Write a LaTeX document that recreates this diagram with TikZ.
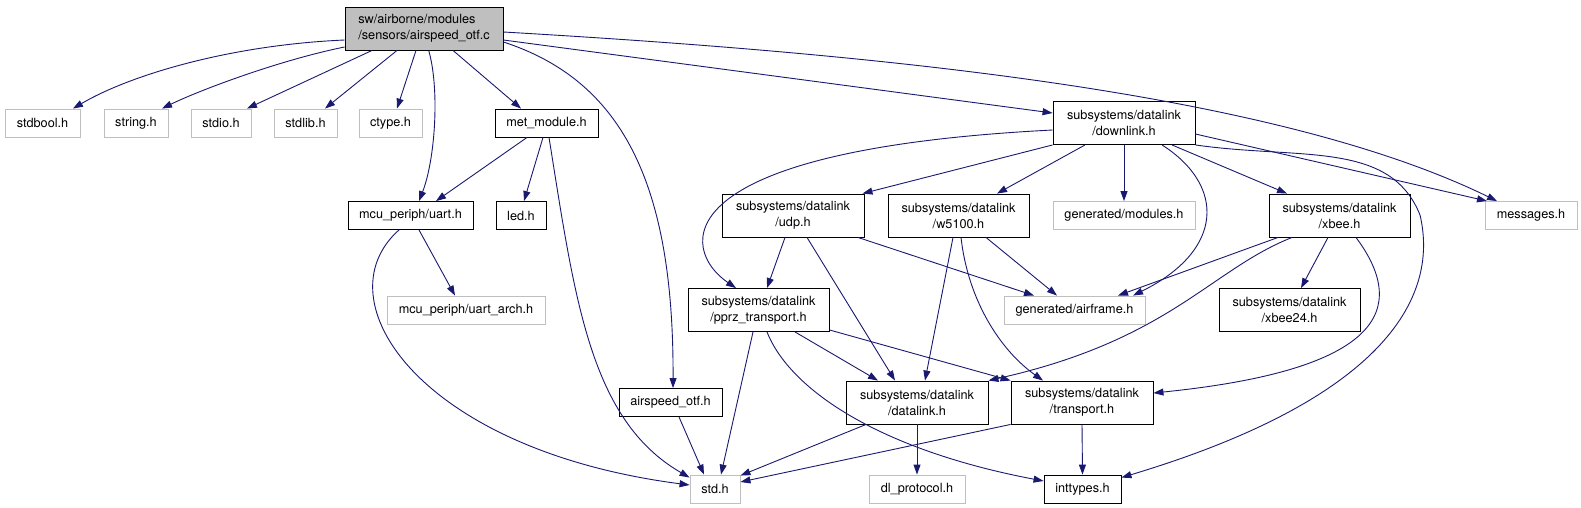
\documentclass[tikz,border=0pt]{standalone}
\usepackage{fontspec}
\setmainfont{TeX Gyre Heros}
\usetikzlibrary{arrows.meta}

\definecolor{edgeblue}{HTML}{191970}
\definecolor{boxgray}{HTML}{BFBFBF}

\begin{document}
\begin{tikzpicture}[
    x=1pt, y=-1pt,
    >={Triangle[length=10pt,width=7pt]},
    every node/.style={font=\fontsize{12.7}{16}\selectfont, inner sep=0pt,
      minimum height=28pt},
    filebox/.style={draw=black, line width=0.9pt, fill=white},
    extbox/.style={draw=boxgray, line width=0.9pt, fill=white},
    twoline/.style={align=center, minimum height=43pt},
    dep arrow/.style={->, draw=edgeblue, line width=0.9pt},
  ]

  %% ---- frame: keep the 1581 x 507 page ----
  \useasboundingbox (0,0) rectangle (1581,507);

  %% ---- the file itself ----
  \node[filebox, fill=boxgray, align=left, minimum width=158pt, minimum height=43pt]
    (root) at (424,28.5) {sw/airborne/modules\\/sensors/airspeed\_otf.c};

  %% ---- row 1 ----
  \node[extbox, minimum width=75pt]  (stdbool) at (42.5,123)  {stdbool.h};
  \node[extbox, minimum width=64pt]  (string)  at (136,123)   {string.h};
  \node[extbox, minimum width=60pt]  (stdio)   at (221,123)   {stdio.h};
  \node[extbox, minimum width=63pt]  (stdlib)  at (305.5,123) {stdlib.h};
  \node[extbox, minimum width=63pt]  (ctype)   at (390.5,123) {ctype.h};
  \node[filebox, minimum width=103pt] (metmod) at (546.5,123) {met\_module.h};
  \node[filebox, twoline, minimum width=142pt]
    (downlink) at (1124,123) {subsystems/datalink\\/downlink.h};

  %% ---- row 2 ----
  \node[filebox, minimum width=125pt] (uart)   at (410.5,215.5) {mcu\_periph/uart.h};
  \node[filebox, minimum width=50pt]  (led)    at (521,215.5)   {led.h};
  \node[filebox, twoline, minimum width=142pt]
    (udp) at (793,215.5) {subsystems/datalink\\/udp.h};
  \node[filebox, twoline, minimum width=141pt]
    (w5100) at (958.5,215.5) {subsystems/datalink\\/w5100.h};
  \node[extbox, minimum width=142pt]  (genmod) at (1124,215.5)  {generated/modules.h};
  \node[filebox, twoline, minimum width=141pt]
    (xbee) at (1339.5,215.5) {subsystems/datalink\\/xbee.h};
  \node[extbox, minimum width=92pt]   (messages) at (1531,215.5) {messages.h};

  %% ---- row 3 ----
  \node[extbox, minimum width=158pt]  (uartarch) at (466,310) {mcu\_periph/uart\_arch.h};
  \node[filebox, twoline, minimum width=141pt]
    (pprz) at (758.5,310) {subsystems/datalink\\/pprz\_transport.h};
  \node[extbox, minimum width=141pt]  (airframe) at (1074.5,310) {generated/airframe.h};
  \node[filebox, twoline, minimum width=141pt]
    (xbee24) at (1289.5,310) {subsystems/datalink\\/xbee24.h};

  %% ---- row 4 ----
  \node[filebox, minimum width=103pt] (airspeedh) at (670.5,402.5) {airspeed\_otf.h};
  \node[filebox, twoline, minimum width=142pt]
    (datalink) at (917,402.5) {subsystems/datalink\\/datalink.h};
  \node[filebox, twoline, minimum width=142pt]
    (transport) at (1082,402.5) {subsystems/datalink\\/transport.h};

  %% ---- row 5 ----
  \node[extbox, minimum width=50pt]  (stdh)     at (715,489)    {std.h};
  \node[extbox, minimum width=96pt]  (dlproto)  at (917,489)    {dl\_protocol.h};
  \node[filebox, minimum width=77pt] (inttypes) at (1082.5,489) {inttypes.h};

  %% ---- includes of airspeed_otf.c ----
  \draw[dep arrow] ([yshift=-11.5pt]root.west) .. controls (230,45) and (130,75)
    .. ([xshift=30.5pt]stdbool.north);
  \draw[dep arrow] ([yshift=-18.5pt]root.west) .. controls (280,60) and (200,90)
    .. ([xshift=26pt]string.north);
  \draw[dep arrow] ([xshift=-52pt]root.south) -- ([xshift=26pt]stdio.north);
  \draw[dep arrow] ([xshift=-27pt]root.south) -- ([xshift=19.5pt]stdlib.north);
  \draw[dep arrow] ([xshift=-8pt]root.south) -- ([xshift=6.5pt]ctype.north);
  \draw[dep arrow] ([xshift=29pt]root.south) -- ([xshift=-25.5pt]metmod.north);
  \draw[dep arrow] ([xshift=4.7pt]root.south) .. controls (440,90) and (435,160)
    .. ([xshift=8.5pt]uart.north);
  \draw[dep arrow] ([yshift=-13.5pt]root.east) .. controls (620,80) and (674,180)
    .. ([xshift=2.5pt]airspeedh.north);
  \draw[dep arrow] ([yshift=-11.5pt]root.east) -- ([yshift=10pt]downlink.west);
  \draw[dep arrow] ([yshift=-3.5pt]root.east) .. controls (900,55) and (1280,95)
    .. ([xshift=-34pt]messages.north);

  %% ---- met_module.h, uart.h ----
  \draw[dep arrow] ([xshift=-19.5pt]metmod.south) -- ([xshift=25.5pt]uart.north);
  \draw[dep arrow] ([xshift=-3.5pt]metmod.south) -- ([xshift=3pt]led.north);
  \draw[dep arrow] ([xshift=2.5pt]metmod.south) .. controls (575,300) and (590,420)
    .. ([yshift=-3pt]stdh.north west);
  \draw[dep arrow] ([xshift=8.5pt]uart.south) -- ([xshift=-11pt]uartarch.north);
  \draw[dep arrow] ([xshift=-11.5pt]uart.south) .. controls (320,300) and (420,450)
    .. ([yshift=4pt]stdh.west);

  %% ---- downlink.h ----
  \draw[dep arrow] ([yshift=-7pt]downlink.west) .. controls (660,150) and (680,250)
    .. ([xshift=-22.5pt]pprz.north);
  \draw[dep arrow] (downlink.south west) -- ([xshift=-2pt]udp.north east);
  \draw[dep arrow] ([xshift=-39pt]downlink.south) -- ([xshift=38.5pt]w5100.north);
  \draw[dep arrow] (downlink.south) -- (genmod.north);
  \draw[dep arrow] ([xshift=38pt]downlink.south) .. controls (1225,185) and (1225,250)
    .. ([xshift=58.5pt]airframe.north);
  \draw[dep arrow] ([xshift=48pt]downlink.south) -- ([xshift=-52.5pt]xbee.north);
  \draw[dep arrow] ([yshift=-11pt]downlink.east) -- ([xshift=-44pt]messages.north);
  \draw[dep arrow] (downlink.south east) .. controls (1300,160) and (1390,140)
    .. (1420,215) .. controls (1440,300) and (1380,400)
    .. ([yshift=-3pt]inttypes.north east);

  %% ---- udp.h, w5100.h ----
  \draw[dep arrow] ([xshift=-8pt]udp.south) -- ([xshift=8.5pt]pprz.north);
  \draw[dep arrow] ([xshift=14pt]udp.south) -- ([xshift=-22pt]datalink.north);
  \draw[dep arrow] ([xshift=65pt]udp.south) -- ([xshift=-40.5pt]airframe.north);
  \draw[dep arrow] ([xshift=27.5pt]w5100.south) -- ([xshift=-17.5pt]airframe.north);
  \draw[dep arrow] ([xshift=-5.5pt]w5100.south) -- ([xshift=8pt]datalink.north);
  \draw[dep arrow] ([xshift=2.5pt]w5100.south) .. controls (968,300) and (1000,350)
    .. ([xshift=-39pt]transport.north);

  %% ---- xbee.h ----
  \draw[dep arrow] ([xshift=-61.5pt]xbee.south) -- ([xshift=43.5pt]airframe.north);
  \draw[dep arrow] ([xshift=-47.5pt]xbee.south) .. controls (1210,270) and (1170,340)
    .. (datalink.north east);
  \draw[dep arrow] ([xshift=-11.5pt]xbee.south) -- ([xshift=11.5pt]xbee24.north);
  \draw[dep arrow] ([xshift=16.5pt]xbee.south) .. controls (1410,310) and (1380,370)
    .. ([yshift=9.5pt]transport.east);

  %% ---- pprz_transport.h ----
  \draw[dep arrow] ([xshift=36.5pt]pprz.south) -- ([xshift=-39pt]datalink.north);
  \draw[dep arrow] ([yshift=2pt]pprz.south east) -- (transport.north west);
  \draw[dep arrow] ([xshift=-5.5pt]pprz.south) -- ([xshift=6pt]stdh.north);
  \draw[dep arrow] ([xshift=8.5pt]pprz.south) .. controls (790,390) and (880,450)
    .. ([yshift=8pt]inttypes.west);

  %% ---- bottom rows ----
  \draw[dep arrow] ([xshift=-51pt]datalink.south) -- ([yshift=-1pt]stdh.north east);
  \draw[dep arrow] (datalink.south) -- (dlproto.north);
  \draw[dep arrow] (transport.south west) -- ([yshift=7pt]stdh.east);
  \draw[dep arrow] (transport.south) -- (inttypes.north);
  \draw[dep arrow] ([xshift=8.5pt]airspeedh.south) -- ([xshift=-11pt]stdh.north);

\end{tikzpicture}
\end{document}
